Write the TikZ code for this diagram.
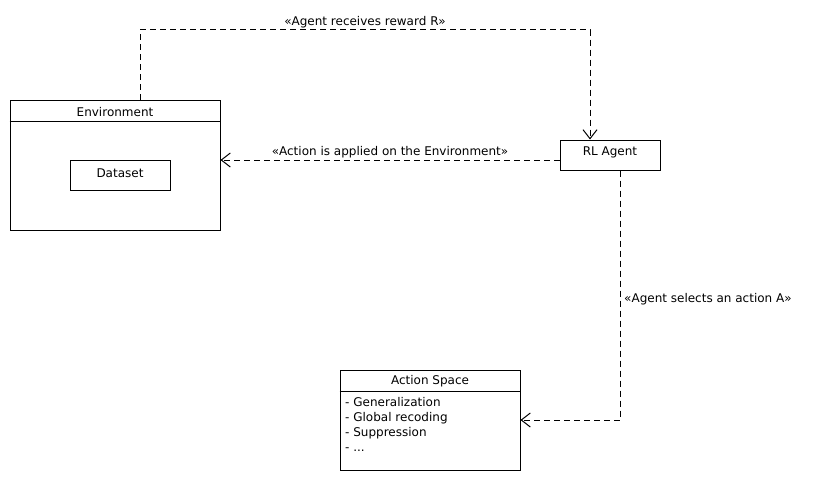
\documentclass[tikz,border=0pt]{standalone}
\usepackage{fontspec}
\setmainfont{DejaVu Sans}
\usetikzlibrary{arrows.meta,positioning}

\begin{document}
\begin{tikzpicture}[
  x=1pt, y=-1pt, font=\fontsize{12}{15}\selectfont,
  box/.style={draw,line width=1pt,inner sep=0pt},
  txt/.style={inner sep=0pt},
  dep/.style={draw,line width=1pt,dash pattern=on 6pt off 4pt,
    -{Straight Barb[length=9pt,width=14pt,line width=1pt]}}
]
\useasboundingbox (0,0) rectangle (820,480);

% Environment with its dataset
\node[box,minimum width=210pt,minimum height=130pt] (env) at (115,165) {};
\draw[line width=1pt] ([yshift=-22pt]env.north west) -- ([yshift=-22pt]env.north east);
\node[txt] (envtxt) at ([yshift=-12.5pt]env.north) {Environment};
\node[box,minimum width=100pt,minimum height=30pt] (data) at (120,175) {};
\node[txt] (datatxt) at (120,173) {Dataset};

% agent
\node[box,minimum width=100pt,minimum height=30pt] (agent) at (610,155) {};
\node[txt] (agenttxt) at (610,152.5) {RL Agent};

% action space
\node[box,minimum width=180pt,minimum height=100pt] (actsp) at (430,420) {};
\draw[line width=1pt] ([yshift=-22pt]actsp.north west) -- ([yshift=-22pt]actsp.north east);
\node[txt] (actsptxt) at ([yshift=-12pt]actsp.north) {Action Space};
\node[txt,anchor=north west,align=left] (actlist) at (345,397.5)
 {- Generalization\\- Global recoding\\- Suppression\\- ...};

% dependencies
\draw[dep] ([xshift=25pt]env.north) -- ++(0,-70) -| ([xshift=-20pt]agent.north);
\node[txt] (rewardlbl) at (365,22) {«Agent receives reward R»};

\draw[dep] ([yshift=-5pt]agent.west) -- ([yshift=5pt]env.east);
\node[txt] (applylbl) at (390,152.5) {«Action is applied on the Environment»};

\draw[dep] ([xshift=10pt]agent.south) |- (actsp.east);
\node[txt,anchor=west] (selectlbl) at (624,299) {«Agent selects an action A»};
\end{tikzpicture}
\end{document}
